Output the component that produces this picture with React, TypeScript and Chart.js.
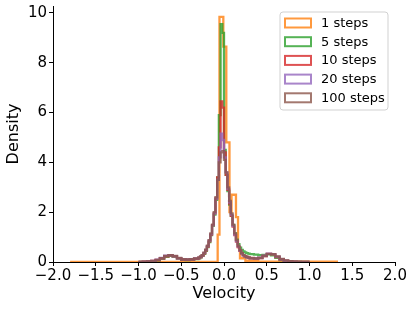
import { useEffect, useRef } from "react";
import { Chart, registerables } from "chart.js";

Chart.register(...registerables);

// Shared bin edges for the multi-step histograms (velocity units)
const BIN_EDGES = [
  -1.0, -0.95, -0.9, -0.85, -0.8, -0.75, -0.7, -0.65, -0.6, -0.55, -0.5, -0.45, -0.4, -0.35,
  -0.3, -0.28, -0.26, -0.24, -0.22, -0.2, -0.18, -0.16, -0.14, -0.12, -0.1, -0.08, -0.06, -0.04, -0.02,
  0.0, 0.02, 0.04, 0.06, 0.08, 0.1, 0.12, 0.14, 0.16, 0.18, 0.2, 0.22, 0.24, 0.26, 0.28,
  0.3, 0.35, 0.4, 0.45, 0.5, 0.55, 0.6, 0.65, 0.7, 0.75, 0.8, 0.85, 0.9, 0.95, 1.0,
];

const STEPS_5 = [
  0, 0.005, 0.015, 0.03, 0.07, 0.13, 0.21, 0.25, 0.21, 0.14, 0.09, 0.08, 0.09, 0.12,
  0.15, 0.19, 0.25, 0.33, 0.45, 0.6, 0.8, 1.08, 1.45, 1.9, 2.5, 3.4, 5.9, 9.55, 9.2,
  4.5, 3.5, 2.85, 2.3, 1.85, 1.48, 1.15, 0.9, 0.72, 0.58, 0.49, 0.43, 0.39, 0.36, 0.34,
  0.32, 0.3, 0.28, 0.29, 0.31, 0.27, 0.17, 0.08, 0.04, 0.02, 0.01, 0.005, 0, 0,
];

const STEPS_10 = [
  0, 0.01, 0.02, 0.04, 0.08, 0.15, 0.23, 0.27, 0.23, 0.15, 0.1, 0.09, 0.1, 0.13,
  0.16, 0.2, 0.26, 0.35, 0.47, 0.62, 0.83, 1.1, 1.48, 1.95, 2.55, 3.4, 4.6, 6.45, 6.2,
  4.4, 3.5, 2.9, 2.35, 1.85, 1.42, 1.08, 0.82, 0.6, 0.45, 0.34, 0.27, 0.23, 0.2, 0.18,
  0.16, 0.14, 0.16, 0.24, 0.33, 0.31, 0.2, 0.1, 0.05, 0.02, 0.01, 0.005, 0, 0,
];

const STEPS_20 = [
  0, 0.01, 0.02, 0.04, 0.09, 0.16, 0.25, 0.28, 0.23, 0.15, 0.11, 0.1, 0.11, 0.14,
  0.17, 0.21, 0.27, 0.37, 0.49, 0.64, 0.86, 1.12, 1.48, 1.95, 2.55, 3.3, 4.2, 5.15, 4.9,
  4.2, 3.6, 2.95, 2.4, 1.9, 1.45, 1.1, 0.84, 0.62, 0.46, 0.35, 0.27, 0.22, 0.19, 0.17,
  0.15, 0.14, 0.17, 0.25, 0.34, 0.32, 0.21, 0.11, 0.05, 0.025, 0.012, 0.005, 0, 0,
];

const STEPS_100 = [
  0, 0.01, 0.02, 0.04, 0.08, 0.15, 0.24, 0.28, 0.24, 0.16, 0.11, 0.1, 0.11, 0.14,
  0.18, 0.22, 0.28, 0.38, 0.5, 0.66, 0.88, 1.15, 1.5, 2.0, 2.6, 3.3, 4.0, 4.4, 4.45,
  4.1, 3.6, 3.0, 2.45, 1.95, 1.5, 1.15, 0.88, 0.65, 0.48, 0.36, 0.28, 0.23, 0.2, 0.18,
  0.15, 0.14, 0.16, 0.24, 0.33, 0.32, 0.22, 0.12, 0.06, 0.03, 0.015, 0.01, 0, 0,
];

// Single-step histogram has its own (coarser) bins
const STEPS_1_EDGES = [-1.8, -0.074, -0.053, -0.008, 0.027, 0.064, 0.088, 0.14, 0.164, 0.187, 0.25, 0.4, 1.32];
const STEPS_1 = [0.0, 1.1, 9.84, 8.65, 4.8, 2.0, 2.7, 1.8, 0.6, 0.15, 0.05, 0.01];

const SERIES_LABELS = ["1 steps", "5 steps", "10 steps", "20 steps", "100 steps"];
const SERIES_COLORS = ["#ff7f0e", "#2ca02c", "#d62728", "#9467bd", "#8c564b"];

const X_TICKS = [-2, -1.5, -1, -0.5, 0, 0.5, 1, 1.5, 2];
const Y_TICKS = [0, 2, 4, 6, 8, 10];
const X_LABEL = "Velocity";
const Y_LABEL = "Density";

const FONT = "'DejaVu Sans', sans-serif";

function rgba(hex: string, a: number) {
  const r = parseInt(hex.slice(1, 3), 16);
  const g = parseInt(hex.slice(3, 5), 16);
  const b = parseInt(hex.slice(5, 7), 16);
  return `rgba(${r},${g},${b},${a})`;
}

function toSteps(edges: number[], values: number[]) {
  const pts: { x: number; y: number }[] = [{ x: edges[0], y: 0 }];
  for (let i = 0; i < values.length; i++) pts.push({ x: edges[i], y: values[i] });
  pts.push({ x: edges[edges.length - 1], y: 0 });
  return pts;
}

const legendPlugin = {
  id: "boxLegend",
  afterDatasetsDraw(chart: any) {
    const { ctx, chartArea } = chart;
    const w = 108;
    const h = 98;
    const x0 = chartArea.right - 7 - w;
    const y0 = chartArea.top + 6;
    const r = 3;
    ctx.save();
    ctx.beginPath();
    ctx.moveTo(x0 + r, y0);
    ctx.lineTo(x0 + w - r, y0);
    ctx.arcTo(x0 + w, y0, x0 + w, y0 + r, r);
    ctx.lineTo(x0 + w, y0 + h - r);
    ctx.arcTo(x0 + w, y0 + h, x0 + w - r, y0 + h, r);
    ctx.lineTo(x0 + r, y0 + h);
    ctx.arcTo(x0, y0 + h, x0, y0 + h - r, r);
    ctx.lineTo(x0, y0 + r);
    ctx.arcTo(x0, y0, x0 + r, y0, r);
    ctx.closePath();
    ctx.fillStyle = "rgba(255,255,255,0.8)";
    ctx.fill();
    ctx.strokeStyle = "rgba(204,204,204,0.9)";
    ctx.lineWidth = 1;
    ctx.stroke();

    ctx.font = `13px ${FONT}`;
    ctx.textBaseline = "middle";
    ctx.textAlign = "left";
    SERIES_LABELS.forEach((label, i) => {
      const cy = y0 + 11 + i * 18.7;
      ctx.strokeStyle = rgba(SERIES_COLORS[i], 0.8);
      ctx.lineWidth = 2;
      ctx.strokeRect(x0 + 5, cy - 4.5, 26, 9);
      ctx.fillStyle = "#000";
      ctx.fillText(label, x0 + 41, cy + 0.5);
    });
    ctx.restore();
  },
};

export default function App() {
  const ref = useRef<HTMLCanvasElement>(null);

  useEffect(() => {
    document.body.style.margin = "0";
    const canvas = ref.current;
    if (!canvas) return;

    const seriesData = [
      toSteps(STEPS_1_EDGES, STEPS_1),
      toSteps(BIN_EDGES, STEPS_5),
      toSteps(BIN_EDGES, STEPS_10),
      toSteps(BIN_EDGES, STEPS_20),
      toSteps(BIN_EDGES, STEPS_100),
    ];

    const chart = new Chart(canvas, {
      type: "scatter",
      data: {
        datasets: seriesData.map((d, i) => ({
          label: SERIES_LABELS[i],
          data: d,
          showLine: true,
          stepped: "before" as const,
          borderColor: rgba(SERIES_COLORS[i], 0.8),
          backgroundColor: rgba(SERIES_COLORS[i], 0.8),
          borderWidth: 2.3,
          pointRadius: 0,
          pointHoverRadius: 0,
          fill: false,
          order: SERIES_LABELS.length - i,
        })),
      },
      options: {
        animation: false,
        responsive: false,
        devicePixelRatio: 1,
        layout: { padding: { left: 0, right: 20, top: 6, bottom: 0 } },
        plugins: {
          legend: { display: false },
          tooltip: { enabled: false },
        },
        scales: {
          x: {
            type: "linear",
            min: -2,
            max: 2,
            afterBuildTicks: (scale: any) => {
              scale.ticks = X_TICKS.map((v) => ({ value: v }));
            },
            afterFit: (scale: any) => {
              scale.height = 48;
              scale.paddingLeft = 0;
              scale.paddingRight = 0;
            },
            ticks: {
              autoSkip: false,
              maxRotation: 0,
              padding: 1,
              color: "#000",
              font: { family: FONT, size: 15 },
              callback: (v: any) => {
                const n = Number(v);
                return (n < 0 ? "\u2212" : "") + Math.abs(n).toFixed(1);
              },
            },
            grid: {
              display: true,
              drawOnChartArea: false,
              drawTicks: true,
              tickLength: 4,
              color: "#000",
            },
            border: { display: true, color: "#000", width: 1 },
            title: {
              display: true,
              text: X_LABEL,
              color: "#000",
              font: { family: FONT, size: 16 },
              padding: { top: 0, bottom: 7 },
            },
          },
          y: {
            type: "linear",
            min: 0,
            max: 10.28,
            afterBuildTicks: (scale: any) => {
              scale.ticks = Y_TICKS.map((v) => ({ value: v }));
            },
            afterFit: (scale: any) => {
              scale.width = 53;
              scale.paddingTop = 0;
              scale.paddingBottom = 0;
            },
            ticks: {
              padding: 2,
              color: "#000",
              font: { family: FONT, size: 15 },
              callback: (v: any) => String(Number(v)),
            },
            grid: {
              display: true,
              drawOnChartArea: false,
              drawTicks: true,
              tickLength: 4,
              color: "#000",
            },
            border: { display: true, color: "#000", width: 1 },
            title: {
              display: true,
              text: Y_LABEL,
              color: "#000",
              font: { family: FONT, size: 16 },
              padding: { top: 4, bottom: 0 },
            },
          },
        },
      },
      plugins: [legendPlugin],
    });

    return () => chart.destroy();
  }, []);

  return <canvas ref={ref} width={415} height={310} style={{ display: "block" }} />;
}
